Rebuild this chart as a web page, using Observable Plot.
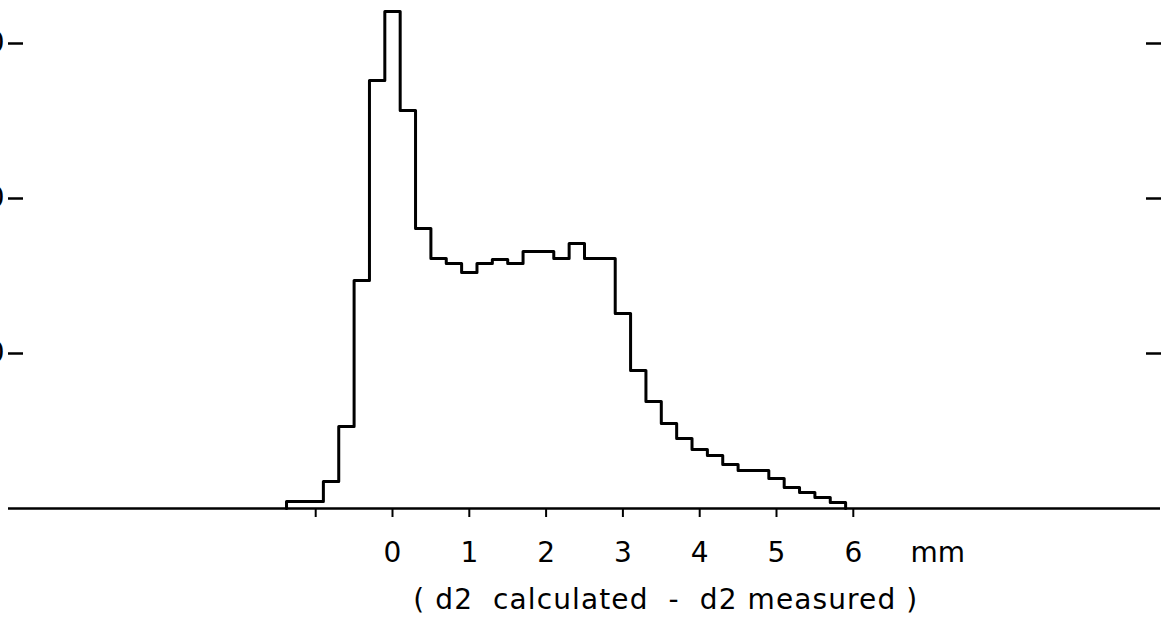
<!DOCTYPE html>
<html>
<head>
<meta charset="utf-8">
<script src="https://cdn.jsdelivr.net/npm/d3@7"></script>
<script src="https://cdn.jsdelivr.net/npm/@observablehq/plot@0.6"></script>
<style>
  html, body { margin: 0; padding: 0; background: #fff; }
  #chart { width: 1163px; height: 622px; overflow: hidden; }
</style>
</head>
<body>
<div id="chart"></div>
<script>
// Histogram bins: left edges (mm) and counts
const binLo = [-1.38, -0.9, -0.7, -0.5, -0.3, -0.1, 0.1, 0.3, 0.5, 0.7,
               0.9, 1.1, 1.3, 1.5, 1.7, 1.9, 2.1, 2.3, 2.5, 2.7,
               2.9, 3.1, 3.3, 3.5, 3.7, 3.9, 4.1, 4.3, 4.5, 4.7,
               4.9, 5.1, 5.3, 5.5, 5.7];
const binHiLast = 5.9;
const counts = [4.5, 17.4, 52.9, 147.1, 276.1, 320.6, 256.8, 180.6, 161.3, 158.1,
                152.3, 158.1, 160.6, 158.1, 165.8, 165.8, 161.3, 171.0, 161.3, 161.3,
                125.8, 89.0, 69.0, 54.8, 45.2, 38.1, 34.2, 28.4, 24.5, 24.5,
                19.4, 13.5, 10.3, 7.1, 3.9];

const xTicks = [-1, 0, 1, 2, 3, 4, 5, 6];
const xTickLabels = ["", "0", "1", "2", "3", "4", "5", "6"];
const xUnit = "mm";
const yTicks = [100, 200, 300];
const yTickLabels = ["100", "200", "300"];
const axisTitle = "( d2  calculated  -  d2 measured )";

// Step outline points
const pts = [{x: binLo[0], y: 0}];
binLo.forEach((lo, i) => pts.push({x: lo, y: counts[i]}));
pts.push({x: binHiLast, y: 0});

const font = "DejaVu Sans";

const chart = Plot.plot({
  width: 1163,
  height: 622,
  marginLeft: 8,
  marginRight: 3,
  marginTop: 12,
  marginBottom: 114,
  style: {fontFamily: font, background: "#fff", color: "#000"},
  x: {domain: [-5, 10]},
  y: {domain: [0, 320]},
  marks: [
    Plot.axisX(xTicks, {
      tickSize: 9, tickPadding: 25, strokeWidth: 2,
      tickFormat: (d) => xTickLabels[xTicks.indexOf(d)],
      fontSize: 28, label: null
    }),
    Plot.axisY(yTicks, {anchor: "left", tickSize: -15, strokeWidth: 2.5, tickFormat: () => "", label: null}),
    Plot.axisY(yTicks, {anchor: "right", tickSize: -15, strokeWidth: 2.5, tickFormat: () => "", label: null}),
    Plot.text(yTicks, {x: -5, y: (d) => d, text: (d, i) => yTickLabels[i], textAnchor: "end", dx: -4, fontSize: 28}),
    Plot.ruleY([0], {strokeWidth: 2.5}),
    Plot.line(pts, {x: "x", y: "y", curve: "step-after", strokeWidth: 3, stroke: "#000"}),
    Plot.text([xUnit], {x: 7.1, y: 0, dy: 45, text: (d) => d, fontSize: 28}),
    Plot.text([axisTitle], {x: 0.27, y: 0, dy: 92, text: (d) => d, textAnchor: "start", fontSize: 28})
  ]
});
// stretch the axis title to the width it has in the picture
d3.select(chart).selectAll("text")
  .filter(function () { return this.textContent === axisTitle; })
  .attr("textLength", 504)
  .attr("lengthAdjust", "spacing");
document.getElementById("chart").appendChild(chart);
</script>
</body>
</html>
